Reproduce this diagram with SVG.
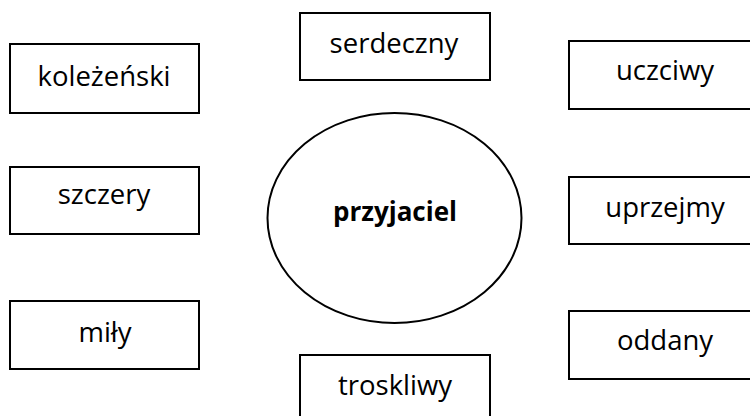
<svg xmlns="http://www.w3.org/2000/svg" width="750" height="416" viewBox="0 0 750 416">
<style>
.box{fill:#fff;stroke:#000;stroke-width:2}
.lbl{font-family:"Open Sans","Liberation Sans",sans-serif;font-size:27.5px;fill:#000;text-anchor:middle}
.center{font-family:"Open Sans","Liberation Sans",sans-serif;font-size:26px;font-weight:bold;fill:#000;text-anchor:middle}
</style>
<rect width="750" height="416" fill="#fff"/>
<g id="connectors"></g>
<g id="n-przyjaciel"><ellipse cx="394.5" cy="218" rx="127" ry="105" fill="#fff" stroke="#000" stroke-width="2"/><text class="center" x="395" y="221">przyjaciel</text></g>
<g id="n-kolezenski"><rect class="box" x="10" y="44" width="189" height="69"/><text class="lbl" x="104" y="86">koleżeński</text></g>
<g id="n-szczery"><rect class="box" x="10" y="167" width="189" height="67"/><text class="lbl" x="104" y="204">szczery</text></g>
<g id="n-mily"><rect class="box" x="10" y="301" width="189" height="68"/><text class="lbl" x="105" y="342">miły</text></g>
<g id="n-serdeczny"><rect class="box" x="300" y="13" width="190" height="67"/><text class="lbl" x="394" y="53">serdeczny</text></g>
<g id="n-troskliwy"><rect class="box" x="300" y="355" width="190" height="70"/><text class="lbl" x="395" y="395">troskliwy</text></g>
<g id="n-uczciwy"><rect class="box" x="569" y="41" width="192" height="68"/><text class="lbl" x="665" y="80">uczciwy</text></g>
<g id="n-uprzejmy"><rect class="box" x="569" y="177" width="192" height="67"/><text class="lbl" x="665" y="217">uprzejmy</text></g>
<g id="n-oddany"><rect class="box" x="569" y="311" width="192" height="68"/><text class="lbl" x="665" y="350">oddany</text></g>
</svg>
